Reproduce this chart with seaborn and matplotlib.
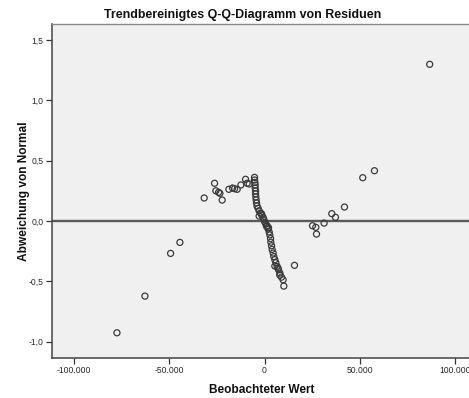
import numpy as np
import pandas as pd
import matplotlib
matplotlib.use("Agg")
import matplotlib.pyplot as plt
import seaborn as sns
from matplotlib.ticker import FuncFormatter

# Observed residual values and their deviation from normal
observed = [
    -77330, -62670, -49220, -44350, -31620, -26180, -25500, -24080, -23400,
    -22200, -18690, -16750, -15710, -14340, -12410, -9950, -9110, -8060,
    -5240, -5240, -5080, -4900, -4900, -4710, -4710, -4560, -4400, -4190,
    -3950, -3350, -2830, -2830, -2090, -1570, -1410, -730, -300, 160, 680,
    1050, 1360, 1880, 2090, 2410, 2780, 3140, 3300, 3670, 3980, 4500, 4870,
    5390, 5390, 5920, 6600, 7120, 7330, 8010, 8010, 8900, 9740, 10100,
    15700, 25130, 26860, 27220, 31200, 35240, 37170, 41880, 51460, 57590,
    86540,
]
deviation = [
    -0.926, -0.622, -0.268, -0.177, 0.191, 0.313, 0.251, 0.238, 0.230,
    0.174, 0.263, 0.274, 0.268, 0.263, 0.299, 0.346, 0.313, 0.307,
    0.362, 0.340, 0.320, 0.298, 0.274, 0.250, 0.226, 0.200, 0.175, 0.150,
    0.125, 0.105, 0.041, 0.085, 0.066, 0.060, 0.047, 0.030, 0.010, -0.010,
    -0.025, -0.044, -0.040, -0.065, -0.055, -0.090, -0.115, -0.145, -0.175,
    -0.205, -0.235, -0.265, -0.295, -0.320, -0.373, -0.345, -0.376, -0.393,
    -0.404, -0.431, -0.448, -0.465, -0.487, -0.539,
    -0.367, -0.039, -0.052, -0.108, -0.017, 0.061, 0.031, 0.116, 0.359,
    0.417, 1.299,
]

x_ticks = [-100000, -50000, 0, 50000, 100000]
y_ticks = [-1.0, -0.5, 0.0, 0.5, 1.0, 1.5]

title = "Trendbereinigtes Q-Q-Diagramm von Residuen"
x_label = "Beobachteter Wert"
y_label = "Abweichung von Normal"

df = pd.DataFrame({"Beobachteter Wert": observed, "Abweichung": deviation})

sns.set_style("white")
plt.rcParams["font.family"] = ["Liberation Sans", "DejaVu Sans"]

W, H = 469, 398
fig = plt.figure(figsize=(W / 100, H / 100), dpi=100)
fig.patch.set_facecolor("white")
ax = fig.add_axes([52 / W, 1 - 358 / H, (472 - 52) / W, (358 - 24) / H])
ax.set_facecolor("#f0f0f0")

ax.axhline(0, color="#5a5a5a", lw=1.7, zorder=1)

sns.scatterplot(
    data=df, x="Beobachteter Wert", y="Abweichung", ax=ax,
    marker="o", s=19, facecolors="none", edgecolor="#3a3a3a",
    linewidth=0.9, zorder=3, legend=False,
)

ax.set_xlim(-111360, 108700)
ax.set_ylim(-1.135, 1.633)
ax.set_xticks(x_ticks)
ax.set_yticks(y_ticks)


def fmt_x(v, _):
    s = f"{abs(int(round(v))):,}".replace(",", ".")
    return ("-" if v < 0 else "") + s


def fmt_y(v, _):
    return f"{v:.1f}".replace(".", ",")


ax.xaxis.set_major_formatter(FuncFormatter(fmt_x))
ax.yaxis.set_major_formatter(FuncFormatter(fmt_y))

ax.tick_params(axis="both", direction="out", length=4, width=0.9,
               color="#333333", labelsize=6.2, labelcolor="#2a2a2a", pad=2,
               bottom=True, left=True)

for side in ["left", "bottom"]:
    ax.spines[side].set_color("#444444")
    ax.spines[side].set_linewidth(1.1)
for side in ["top", "right"]:
    ax.spines[side].set_color("#888888")
    ax.spines[side].set_linewidth(1.0)

ax.set_xlabel(x_label, fontsize=8.6, fontweight="bold", labelpad=6, color="#111111")
ax.set_ylabel(y_label, fontsize=8.6, fontweight="bold", labelpad=-1, color="#111111")
fig.text(243 / W, 1 - 15 / H, title, ha="center", va="center",
         fontsize=8.9, fontweight="bold", color="#111111")

fig.savefig("out.png", dpi=100)
